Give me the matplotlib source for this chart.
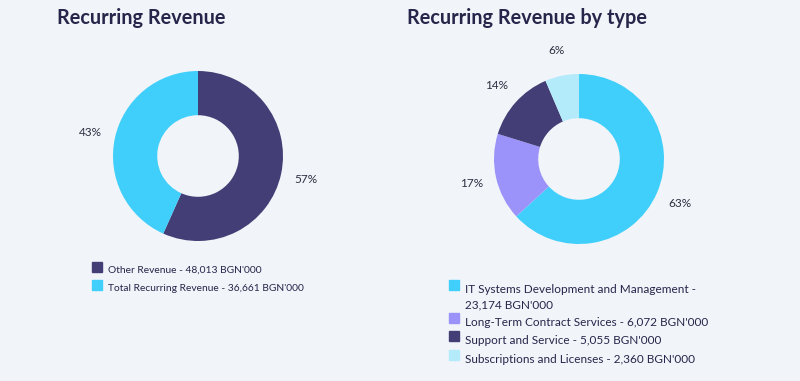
import matplotlib.pyplot as plt
from matplotlib.patches import Rectangle

# data
rev_labels = ["Other Revenue - 48,013 BGN'000", "Total Recurring Revenue - 36,661 BGN'000"]
rev_values = [48013, 36661]
rev_colors = ["#433E75", "#40CFFA"]

type_labels = ["IT Systems Development and Management -\n23,174 BGN'000",
               "Long-Term Contract Services - 6,072 BGN'000",
               "Support and Service - 5,055 BGN'000",
               "Subscriptions and Licenses - 2,360 BGN'000"]
type_values = [23174, 6072, 5055, 2360]
type_colors = ["#40CFFA", "#9B93F9", "#433E75", "#B4EBFB"]

bg = "#F1F4F9"
txt = "#25264A"
plt.rcParams['font.family'] = ['Lato', 'DejaVu Sans']

W, H = 800, 381
fig = plt.figure(figsize=(8, 3.81), dpi=100, facecolor=bg)


def px(x, y):
    return x / W, 1 - y / H


def donut(cx, cy, r, values, colors):
    ax = fig.add_axes([(cx - r) / W, 1 - (cy + r) / H, 2 * r / W, 2 * r / H])
    ax.pie(values, colors=colors, startangle=90, counterclock=False,
           radius=1, wedgeprops=dict(width=0.52, linewidth=0),
           autopct='%.0f%%', pctdistance=1.3,
           textprops=dict(color="#2E2E40", fontsize=8.5))
    ax.set_xlim(-1, 1)
    ax.set_ylim(-1, 1)
    ax.set_aspect('equal')
    ax.axis('off')


def legend(x, rows, labels, colors, size=8.5):
    for y, lab, c in zip(rows, labels, colors):
        sx, sy = px(x, y + 5)
        fig.patches.append(Rectangle((sx, sy), 10 / W, 10 / H, color=c,
                                     transform=fig.transFigure, figure=fig))
        tx, ty = px(x + 16, y - 1)
        fig.text(tx, ty, lab, fontsize=size, color=txt, va='top', linespacing=1.45)


fig.text(*px(57, 18), "Recurring Revenue", fontsize=14.3, fontweight='bold',
         color=txt, va='center')
fig.text(*px(407, 18), "Recurring Revenue by type", fontsize=14.3, fontweight='bold',
         color=txt, va='center')

donut(198, 156, 85, rev_values, rev_colors)
donut(579, 159, 85, type_values, type_colors)

legend(92, [267, 285], rev_labels, rev_colors, size=7.4)
legend(449, [285, 318, 336, 355], type_labels, type_colors)

fig.savefig("out.png", dpi=100, facecolor=bg)
